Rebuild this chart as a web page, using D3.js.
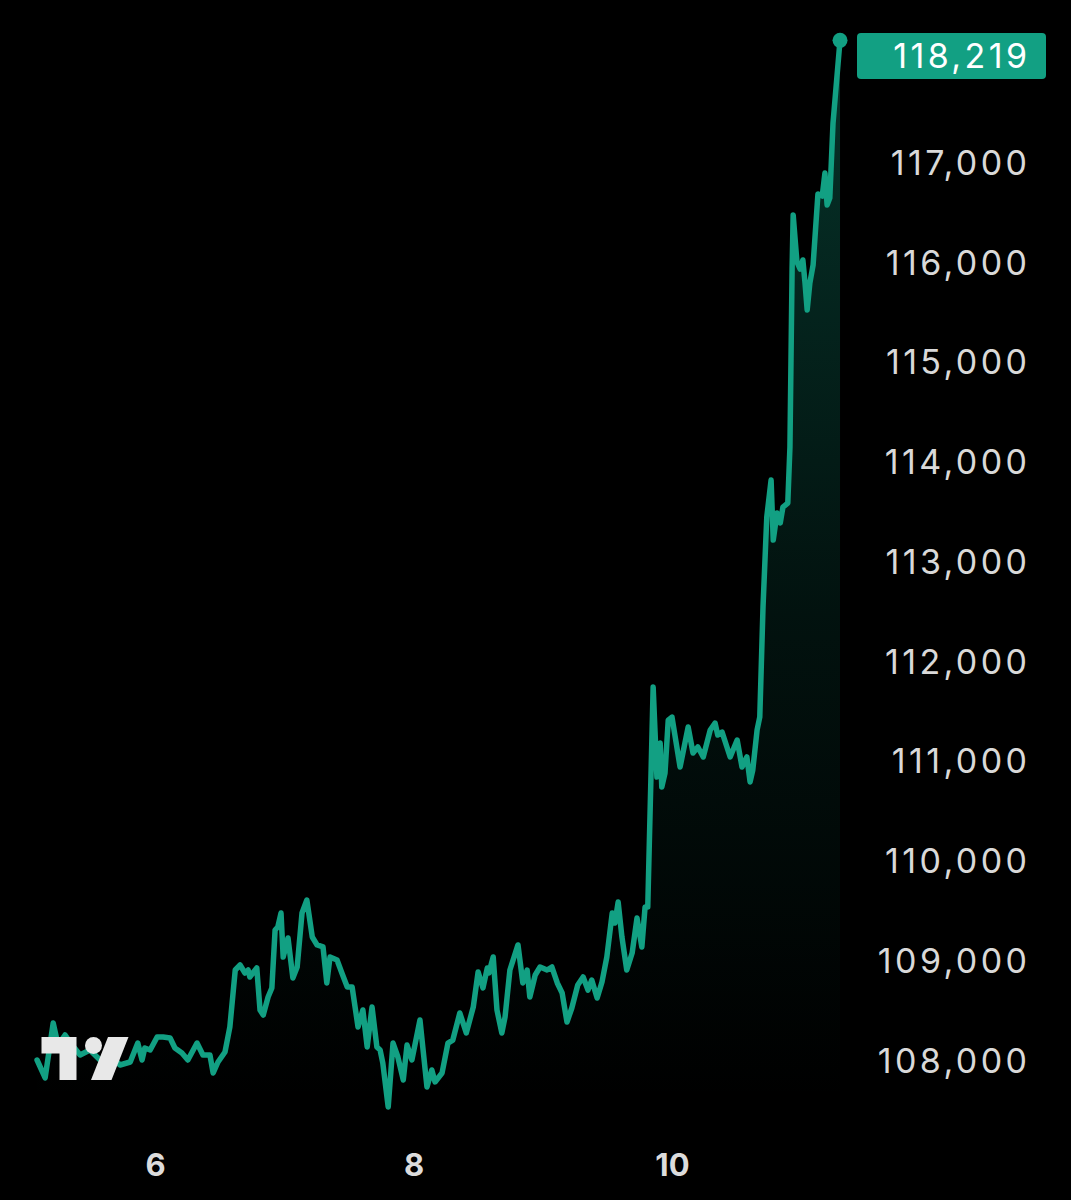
<!DOCTYPE html>
<html>
<head>
<meta charset="utf-8">
<script src="https://cdn.jsdelivr.net/npm/d3@7"></script>
<style>
  html, body { margin: 0; padding: 0; background: #000; }
  svg { display: block; }
</style>
</head>
<body>
<svg id="chart" width="1071" height="1200"></svg>
<script>
// ---- DATA ----
// hours since 2025-07-05 00:00
const hours = [2.1,3.6,5.1,6.0,7.3,8.6,10.1,11.9,13.8,15.6,17.5,19.4,20.8,21.6,22.1,23.1,24.4,25.5,26.8,27.7,
  29.0,30.1,31.8,32.9,34.2,34.8,35.7,37.0,37.9,38.9,39.8,40.7,41.3,41.6,42.9,43.5,44.1,45.0,45.7,46.3,
  46.8,47.4,47.8,48.7,49.6,50.4,51.3,52.2,53.2,54.1,55.2,55.9,56.5,57.8,58.7,59.7,60.6,61.7,62.6,63.4,
  64.3,65.2,65.8,66.3,67.3,68.2,69.1,70.1,70.8,71.7,73.2,74.5,75.4,76.0,77.3,78.4,79.3,80.6,81.8,83.1,
  84.0,84.9,85.7,86.0,86.8,87.5,88.4,89.0,89.9,91.4,92.3,93.1,93.6,94.6,95.5,96.8,97.7,98.7,99.6,100.5,
  101.4,102.5,103.5,104.4,105.1,106.1,107.0,107.9,108.9,109.4,110.0,110.7,111.6,112.6,113.5,114.4,115.0,115.5,116.5,117.2,
  117.8,118.1,118.7,119.3,120.0,121.5,123.0,123.9,124.8,125.8,127.1,128.0,128.5,129.3,130.8,132.1,133.0,133.9,134.5,135.0,
  135.8,136.3,136.9,137.6,138.4,138.8,139.5,140.1,140.6,141.5,141.9,142.3,142.5,143.2,143.8,144.3,144.7,145.1,145.6,146.2,
  147.1,147.9,148.4,148.8,149.3,149.9,151.2];
const prices = [108000,107820,108371,108150,108251,108150,108050,108100,108000,108050,107950,107980,108170,108000,108120,108100,108230,108230,108220,108120,
  108070,108000,108170,108050,108050,107870,107980,108080,108331,108902,108952,108872,108902,108832,108922,108501,108451,108631,108722,109303,
  109333,109473,109032,109223,108822,108932,109473,109603,109233,109153,109133,108772,109032,109002,108872,108732,108732,108331,108501,108130,
  108531,108130,108100,107970,107529,108170,108030,107800,108150,108000,108401,107729,107900,107780,107870,108170,108200,108471,108271,108531,
  108882,108722,108922,108872,109032,108501,108271,108431,108902,109153,108772,108902,108631,108852,108932,108902,108932,108772,108671,108381,
  108521,108752,108832,108701,108802,108621,108782,109032,109473,109373,109583,109233,108902,109072,109423,109132,109533,109533,111738,110836,
  111177,110736,110876,111407,111437,110936,111337,111077,111137,111037,111307,111377,111257,111287,111037,111207,110936,111037,110786,110906,
  111307,111437,112540,113442,113813,113211,113482,113382,113542,113582,114143,115927,116468,115998,115927,116018,115787,115517,115787,115967,
  116679,116659,116889,116569,116639,117391,118219];
const yTicks = [108000,109000,110000,111000,112000,113000,114000,115000,116000,117000];
const xTickDays = [6, 8, 10];

// ---- SETUP ----
const start = new Date(2025, 6, 5, 0, 0);
const data = hours.map((h, i) => ({ t: d3.timeMinute.offset(start, Math.round(h * 60)), v: prices[i] }));

const svg = d3.select("#chart");
const W = 1071, H = 1200;
svg.append("rect").attr("width", W).attr("height", H).attr("fill", "#000");

const pxPerDay = 129.25;
const x0 = 25.75;
const x = d3.scaleTime()
  .domain([start, d3.timeHour.offset(start, 156)])
  .range([x0, x0 + 156 * pxPerDay / 24]);
const y = d3.scaleLinear().domain([108000, 117000]).range([1060, 162]);

const teal = "#12a083";

// gradient
const defs = svg.append("defs");
const grad = defs.append("linearGradient")
  .attr("id", "areaGrad")
  .attr("gradientUnits", "userSpaceOnUse")
  .attr("x1", 0).attr("x2", 0).attr("y1", 40).attr("y2", 1100);
grad.append("stop").attr("offset", "0%").attr("stop-color", teal).attr("stop-opacity", 0.32);
grad.append("stop").attr("offset", "55%").attr("stop-color", teal).attr("stop-opacity", 0.11);
grad.append("stop").attr("offset", "100%").attr("stop-color", teal).attr("stop-opacity", 0);

const area = d3.area().x(d => x(d.t)).y0(1110).y1(d => y(d.v));
svg.append("path").datum(data).attr("d", area).attr("fill", "url(#areaGrad)");

const line = d3.line().x(d => x(d.t)).y(d => y(d.v));
svg.append("path").datum(data).attr("d", line)
  .attr("fill", "none").attr("stroke", teal).attr("stroke-width", 5.5)
  .attr("stroke-linejoin", "round").attr("stroke-linecap", "round");

const last = data[data.length - 1];
svg.append("circle").attr("cx", x(last.t)).attr("cy", y(last.v)).attr("r", 7.5).attr("fill", teal);

const fontFam = "Inter, 'Noto Sans', sans-serif";
const spacing = 3.4;

// ---- Y AXIS ----
const yAxis = d3.axisRight(y).tickValues(yTicks).tickFormat(d3.format(",")).tickSize(0);
const gy = svg.append("g").attr("transform", "translate(1027,0)").call(yAxis);
gy.select(".domain").remove();
gy.selectAll("text")
  .attr("x", spacing).attr("dy", "0.36em")
  .attr("text-anchor", "end")
  .attr("fill", "#d9d9d9")
  .style("font-family", fontFam)
  .style("font-size", "34px")
  .style("letter-spacing", spacing + "px")
  .style("font-weight", 400);

// last price label
const lbl = svg.append("g");
lbl.append("rect").attr("x", 857).attr("y", 33).attr("width", 189).attr("height", 46).attr("rx", 4).attr("fill", teal);
lbl.append("text").attr("x", 1027 + spacing).attr("y", 56).attr("dy", "0.36em")
  .attr("text-anchor", "end").attr("fill", "#ffffff")
  .style("font-family", fontFam)
  .style("font-size", "34px")
  .style("letter-spacing", spacing + "px")
  .text(d3.format(",")(last.v));

// ---- X AXIS ----
const xAxis = d3.axisBottom(x)
  .tickValues(xTickDays.map(d => new Date(2025, 6, d)))
  .tickFormat(d3.timeFormat("%-d")).tickSize(0);
const gx = svg.append("g").attr("transform", "translate(0,1165)").call(xAxis);
gx.select(".domain").remove();
gx.selectAll("text")
  .attr("y", 0).attr("dy", "0.36em")
  .attr("fill", "#dcdcdc")
  .style("font-family", fontFam)
  .style("font-size", "31px")
  .style("font-weight", 700);

// ---- TradingView logo ----
const logo = svg.append("g").attr("fill", "#e8e8e8");
logo.append("path").attr("d", "M41.5,1037 L76.5,1037 L76.5,1080 L59.5,1080 L59.5,1053.5 L41.5,1053.5 Z");
logo.append("circle").attr("cx", 93.5).attr("cy", 1045.5).attr("r", 8.5);
logo.append("path").attr("d", "M108,1037 L128.5,1037 L111.5,1080 L91,1080 Z");
</script>
</body>
</html>
